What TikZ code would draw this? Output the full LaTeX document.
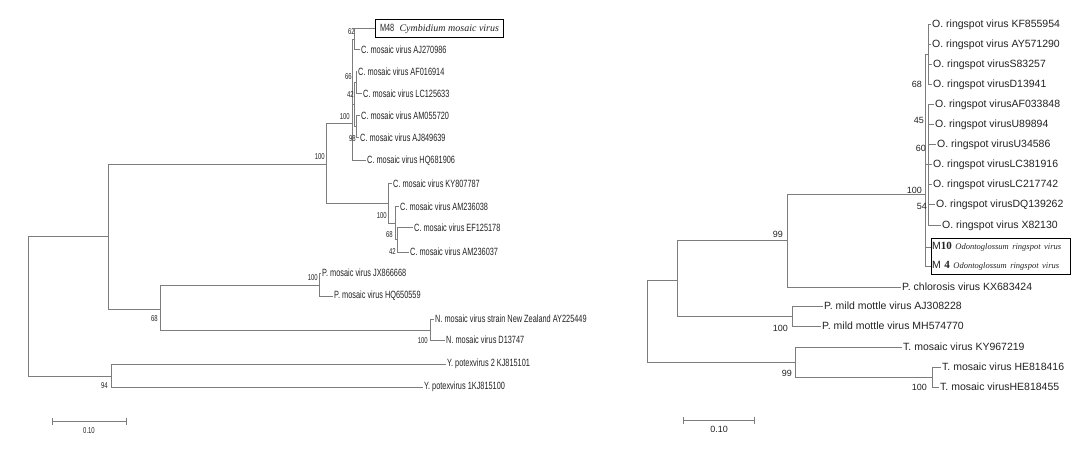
\documentclass[tikz,border=0pt]{standalone}
\usepackage{fontspec}
\setmainfont{Liberation Serif}
\newfontfamily\narrowsans[FakeStretch=0.7]{Liberation Sans}
\newfontfamily\treesans{Liberation Sans}
\usetikzlibrary{arrows.meta,fit}
\definecolor{treegray}{HTML}{7D7D7D}
\definecolor{txt}{HTML}{222222}

\begin{document}
\begin{tikzpicture}[x=1pt,y=-1pt,
edge/.style={draw=treegray, line width=1pt},
leaf/.style={anchor=west, inner sep=1pt, text=txt, font=\narrowsans\fontsize{10.5}{12}\selectfont},
rleaf/.style={anchor=west, inner sep=1pt, text=txt, font=\treesans\fontsize{10.5}{12}\selectfont},
boot/.style={anchor=east, inner sep=0pt, text=txt, font=\narrowsans\fontsize{8.5}{10}\selectfont},
rboot/.style={anchor=east, inner sep=0pt, text=txt, font=\treesans\fontsize{9}{10}\selectfont},
sample/.style={draw=black, line width=1pt}]

\useasboundingbox (0,0) rectangle (1091,454);

% left tree
\coordinate (root) at (28,306.5);
\coordinate (n1) at (108,237);
\coordinate (ny) at (111,376);
\coordinate (nc) at (326,165);
\coordinate (npn) at (160,309);
\coordinate (nca) at (352,124);
\coordinate (n62) at (354,40);
\coordinate (n42) at (354,105);
\coordinate (n66) at (356,83);
\coordinate (n98) at (356,127);
\coordinate (ncb) at (388,204);
\coordinate (ns1) at (395,224);
\coordinate (ns2) at (397,240);
\coordinate (np) at (319,285);
\coordinate (nn) at (430,330);

\node[leaf, sample, minimum width=128pt, minimum height=18pt, inner sep=2pt] (m48) at (375,29)
  {M48\enspace{\rmfamily\itshape\fontsize{10}{12}\selectfont Cymbidium mosaic virus}};
\node[leaf] (aj270986) at (360,50) {C. mosaic virus AJ270986};
\node[leaf] (af016914) at (357,72) {C. mosaic virus AF016914};
\node[leaf] (lc125633) at (362,94) {C. mosaic virus LC125633};
\node[leaf] (am055720) at (360,116) {C. mosaic virus AM055720};
\node[leaf] (aj849639) at (359,138) {C. mosaic virus AJ849639};
\node[leaf] (hq681906) at (366,161) {C. mosaic virus HQ681906};
\node[leaf] (ky807787) at (392,184) {C. mosaic virus KY807787};
\node[leaf] (am236038) at (399,207) {C. mosaic virus AM236038};
\node[leaf] (ef125178) at (413,228) {C. mosaic virus EF125178};
\node[leaf] (am236037) at (409,252) {C. mosaic virus AM236037};
\node[leaf] (jx866668) at (321,273) {P. mosaic virus JX866668};
\node[leaf] (hq650559) at (333,296) {P. mosaic virus HQ650559};
\node[leaf] (ay225449) at (434,319) {N. mosaic virus strain New Zealand AY225449};
\node[leaf] (d13747) at (445,340) {N. mosaic virus D13747};
\node[leaf] (kj815101) at (446,364) {Y. potexvirus 2 KJ815101};
\node[leaf] (kj815100) at (423,387) {Y. potexvirus 1KJ815100};

\draw[edge] (root) |- (n1) (root) |- (ny)
  (n1) |- (nc) (n1) |- (npn)
  (nc) |- (nca) (nc) |- (ncb)
  (nca) |- (n62) (nca) |- (n42) (nca) |- (hq681906.west)
  (n62) |- (m48.west) (n62) |- (aj270986.west)
  (n42) |- (n66) (n42) |- (n98)
  (n66) |- (af016914.west) (n66) |- (lc125633.west)
  (n98) |- (am055720.west) (n98) |- (aj849639.west)
  (ncb) |- (ky807787.west) (ncb) |- (ns1)
  (ns1) |- (am236038.west) (ns1) |- (ns2)
  (ns2) |- (ef125178.west) (ns2) |- (am236037.west)
  (npn) |- (np) (npn) |- (nn)
  (np) |- (jx866668.west) (np) |- (hq650559.west)
  (nn) |- (ay225449.west) (nn) |- (d13747.west)
  (ny) |- (kj815101.west) (ny) |- (kj815100.west);

\node[boot] (b100a) at (325,157) {100};
\node[boot] (b68a) at (158,319) {68};
\node[boot] (b94) at (108,386) {94};
\node[boot] (b100p) at (318,278) {100};
\node[boot] (b100n) at (428,341) {100};
\node[boot] (b62) at (355,32) {62};
\node[boot] (b66) at (352,77) {66};
\node[boot] (b42a) at (354,95) {42};
\node[boot] (b100c) at (350,117) {100};
\node[boot] (b98) at (356,139) {98};
\node[boot] (b100d) at (387,216) {100};
\node[boot] (b68b) at (393,235) {68};
\node[boot] (b42b) at (396,252) {42};

\coordinate (sl0) at (52,421);
\coordinate (sl1) at (127,421);
\draw[edge, {Bar[width=7pt]}-{Bar[width=7pt]}] (sl0) -- (sl1);
\node[boot, anchor=center] (sllab) at (89,431) {0.10};

% right tree
\coordinate (rr) at (647,321.5);
\coordinate (ra) at (677,280);
\coordinate (rt) at (795,362);
\coordinate (rb) at (787,241);
\coordinate (rpm) at (792,316);
\coordinate (ro) at (925,195);
\coordinate (rh) at (932,377);
\coordinate (o68) at (928,55);
\coordinate (o60) at (928,165);
\coordinate (om) at (925,256.5);

\node[rleaf] (kf855954) at (931,25) {O. ringspot virus KF855954};
\node[rleaf] (ay571290) at (931,45) {O. ringspot virus AY571290};
\node[rleaf] (s83257) at (932,65) {O. ringspot virusS83257};
\node[rleaf] (d13941) at (932,85) {O. ringspot virusD13941};
\node[rleaf] (af033848) at (934,105) {O. ringspot virusAF033848};
\node[rleaf] (u89894) at (934,125) {O. ringspot virusU89894};
\node[rleaf] (u34586) at (936,145) {O. ringspot virusU34586};
\node[rleaf] (lc381916) at (932,165) {O. ringspot virusLC381916};
\node[rleaf] (lc217742) at (932,185) {O. ringspot virusLC217742};
\node[rleaf] (dq139262) at (935,205) {O. ringspot virusDQ139262};
\node[rleaf] (x82130) at (941,226) {O. ringspot virus X82130};
\node[rleaf, minimum height=17pt, text width=137pt] (m10) at (931,247)
  {M{\rmfamily\bfseries\fontsize{11}{12}\selectfont 10} {\rmfamily\itshape\fontsize{8.5}{10}\selectfont Odontoglossum ringspot virus}};
\node[rleaf, minimum height=17pt, text width=137pt] (m4) at (931,266)
  {M {\rmfamily\bfseries\fontsize{11}{12}\selectfont 4} {\rmfamily\itshape\fontsize{8.5}{10}\selectfont Odontoglossum ringspot virus}};
\node[sample, inner sep=0pt, fit=(m10)(m4)] (orsv) {};
\node[rleaf] (kx683424) at (901,287) {P. chlorosis virus KX683424};
\node[rleaf] (aj308228) at (823,306) {P. mild mottle virus AJ308228};
\node[rleaf] (mh574770) at (821,326) {P. mild mottle virus MH574770};
\node[rleaf] (ky967219) at (902,347) {T. mosaic virus KY967219};
\node[rleaf] (he818416) at (941,367) {T. mosaic virus HE818416};
\node[rleaf] (he818455) at (939,387) {T. mosaic virusHE818455};

\draw[edge] (rr) |- (ra) (rr) |- (rt)
  (ra) |- (rb) (ra) |- (rpm)
  (rb) |- (ro) (rb) |- (kx683424.west)
  (rpm) |- (aj308228.west) (rpm) |- (mh574770.west)
  (rt) |- (ky967219.west) (rt) |- (rh)
  (rh) |- (he818416.west) (rh) |- (he818455.west)
  (ro) |- (o68) (ro) |- (o60) (ro) |- (om)
  (o68) |- (kf855954.west) (o68) |- (ay571290.west) (o68) |- (s83257.west) (o68) |- (d13941.west)
  (o60) |- (af033848.west) (o60) |- (u89894.west) (o60) |- (u34586.west) (o60) |- (lc381916.west)
  (o60) |- (lc217742.west) (o60) |- (dq139262.west) (o60) |- (x82130.west)
  (om) |- (m10.west) (om) |- (m4.west);

\node[rboot] (r99a) at (783,234) {99};
\node[rboot] (r100a) at (788,328) {100};
\node[rboot] (r99b) at (792,373) {99};
\node[rboot] (r100b) at (927,387) {100};
\node[rboot] (r100c) at (922,190) {100};
\node[rboot] (r68) at (922,84) {68};
\node[rboot] (r45) at (924,120) {45};
\node[rboot] (r60) at (926,148) {60};
\node[rboot] (r54) at (927,206) {54};

\coordinate (sr0) at (683,420);
\coordinate (sr1) at (755,420);
\draw[edge, {Bar[width=7pt]}-{Bar[width=7pt]}] (sr0) -- (sr1);
\node[rboot, anchor=center] (srlab) at (719,429) {0.10};
%
\end{tikzpicture}
\end{document}
